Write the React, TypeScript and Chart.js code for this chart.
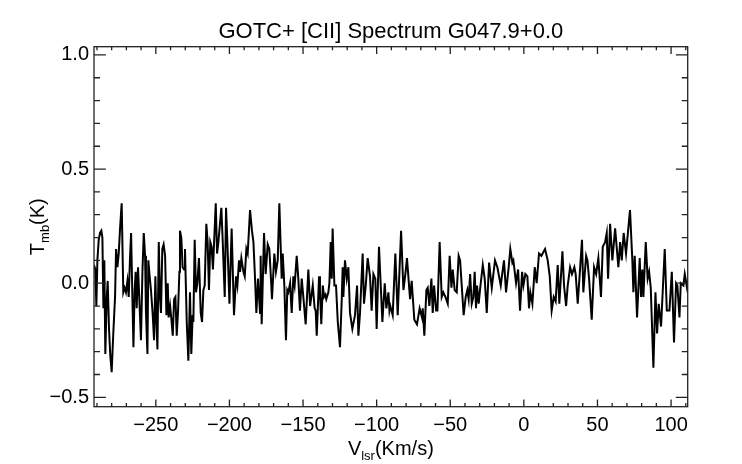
import { useEffect, useRef } from 'react';
import { Chart, registerables } from 'chart.js';

Chart.register(...registerables);

// Velocity channels (km/s)
const velocities: number[] = [
  -292.0, -291.1, -290.4, -289.7, -288.8, -287.9, -287.0, -286.3, -285.6, -285.0,
  -284.3, -283.4, -282.7, -281.8, -280.9, -280.0, -278.9, -277.7, -277.0, -276.1,
  -275.2, -274.3, -273.2, -272.1, -271.2, -270.3, -269.3, -268.4, -267.5, -266.8,
  -265.9, -265.2, -264.4, -263.7, -263.0, -262.1, -261.2, -260.1, -259.1, -258.2,
  -257.3, -256.7, -255.7, -255.1, -254.2, -253.3, -252.1, -251.2, -250.3, -249.6,
  -248.9, -248.0, -247.1, -246.5, -245.6, -244.7, -243.7, -242.8, -241.9, -241.3,
  -240.3, -239.4, -238.5, -237.6, -236.7, -235.8, -234.9, -234.0,
  -233.6, -232.7, -231.8, -230.8, -230.2, -229.0, -227.9, -226.8, -225.9, -225.0,
  -224.5, -223.6, -222.7, -221.8, -220.7, -219.5, -218.6, -217.7, -216.8, -215.7,
  -214.8, -213.9, -213.0, -212.1, -211.2, -209.3, -208.4, -207.5, -205.5, -204.6,
  -203.2, -202.3, -201.4, -200.0, -198.5, -196.9, -195.5, -194.6, -193.5, -192.8,
  -191.9, -190.5, -189.6, -188.5, -187.6, -186.0, -184.7, -183.7, -182.8, -181.7,
  -180.6, -179.2, -178.8, -178.1, -176.5, -175.4, -174.0, -172.9, -171.7, -171.1,
  -169.5, -168.4, -167.2, -166.1,
  -164.5, -163.8, -162.7, -161.6, -160.7, -160.0, -158.8, -157.7, -156.6, -155.7,
  -154.3, -153.2, -152.1, -150.9, -149.8, -148.2, -146.4, -145.2, -143.4, -142.1,
  -141.4, -140.7, -139.1, -138.5, -137.6, -136.6, -135.7, -134.8, -134.2, -132.8,
  -132.1, -131.2, -130.5, -129.9, -128.7, -127.6, -126.4, -124.9, -123.7, -123.1,
  -122.6, -121.5, -120.3, -119.2, -118.1, -116.5, -114.7, -113.3, -112.4, -111.3,
  -109.5, -108.6, -107.4, -106.1, -104.5, -103.4, -102.2, -100.9, -100.0, -98.4,
  -96.1, -94.5, -93.4, -92.0, -91.3, -90.7, -89.1, -87.3, -85.7, -83.4,
  -81.8, -80.5, -79.4, -77.3, -76.2, -74.4, -72.6, -70.8, -69.2, -68.7,
  -67.6, -66.2, -65.3, -64.2, -62.8, -61.9, -61.0, -59.6, -58.7, -57.2,
  -55.8, -54.7, -53.3, -51.7, -50.4, -49.2, -48.3, -47.0, -45.6, -44.3,
  -43.3, -42.2, -40.9, -39.5, -38.4, -37.5, -36.5, -35.4, -34.3, -33.4,
  -32.5, -31.8, -30.7, -29.8,
  -27.9, -26.6, -25.2, -23.6, -21.8, -19.6, -18.0, -15.7, -13.5, -12.1,
  -10.3, -9.2, -7.8, -7.1, -5.3, -3.9, -2.6, -1.2, -0.3, 1.0,
  2.4, 3.5, 4.4, 5.8, 7.4, 8.7, 10.3, 11.9, 14.4, 16.2,
  17.6, 18.9, 20.3, 21.6, 23.0, 24.1, 26.2, 27.3, 28.7, 29.8,
  31.4, 32.7, 34.3, 35.2, 36.6, 39.5,
  40.4, 42.3, 43.2, 44.3, 46.1, 47.7, 49.1, 50.6, 52.4, 53.6,
  55.2, 56.3, 57.2, 58.6, 60.1, 62.0, 64.2, 65.4, 66.5, 67.8,
  69.4, 72.1, 73.7, 74.4, 75.3, 76.9, 78.7, 79.6, 80.5, 81.2,
  82.8, 84.1, 85.1, 86.2, 88.0, 89.4, 90.5, 91.6, 93.2, 95.7,
  97.1, 98.9, 100.5, 102.0, 103.4, 104.3, 105.7, 106.6, 108.4, 109.3,
  110.6, 111.3,
];

// Main-beam temperature (K)
const tmb: number[] = [
  0.08, 0.06, -0.10, 0.10, 0.19, 0.22, 0.23, 0.20, -0.11, 0.10,
  -0.31, -0.07, 0.01, -0.20, -0.32, -0.39, -0.22, -0.06, 0.15, 0.07,
  0.13, 0.24, 0.35, -0.04, -0.02, -0.04, 0.01, -0.06, 0.12, 0.22,
  -0.07, -0.28, -0.03, 0.05, -0.11, 0.07, -0.07, -0.25, 0.05, 0.22,
  0.12, -0.13, -0.31, 0.10, 0.03, -0.03, -0.14, -0.25, 0.03, -0.17,
  -0.29, 0.18, -0.07, -0.13, 0.15, 0.17, 0.12, -0.14, 0.00, -0.15,
  -0.10, -0.16, -0.23, -0.07, -0.06, -0.23, -0.12, 0.05,
  0.23, 0.20, 0.07, 0.06, 0.15, -0.17, -0.34, -0.04, -0.31, -0.14,
  -0.17, 0.19, -0.04, 0.00, 0.11, -0.13, -0.17, -0.03, -0.01, 0.26,
  0.18, -0.03, 0.18, 0.16, 0.06, 0.35, 0.13, 0.18, 0.33, 0.19,
  -0.06, 0.33, 0.18, -0.09, 0.24, -0.14, 0.03, -0.01, 0.10, 0.05,
  0.11, 0.05, 0.03, 0.15, 0.13, 0.32, 0.23, 0.18, 0.05, -0.13,
  0.02, -0.13, 0.12, -0.18, 0.22, 0.04, 0.17, 0.15, 0.01, -0.07,
  0.13, 0.05, 0.10, 0.35,
  0.02, 0.13, -0.01, -0.25, -0.03, -0.04, 0.00, -0.13, 0.03, -0.01,
  0.12, 0.02, -0.12, 0.02, -0.06, -0.18, 0.06, -0.10, -0.01, -0.11,
  -0.12, -0.23, 0.03, -0.04, -0.18, -0.01, -0.06, -0.05, -0.07, -0.04,
  0.00, 0.18, 0.02, 0.24, -0.01, -0.01, -0.17, -0.28, -0.07, 0.07,
  -0.06, 0.10, 0.02, 0.07, -0.13, -0.20, -0.14, -0.01, -0.23, -0.13,
  0.13, -0.09, -0.01, 0.11, 0.03, -0.12, 0.04, 0.02, -0.20, 0.16,
  -0.17, 0.00, -0.11, -0.04, -0.12, -0.10, -0.14, 0.13, -0.14, 0.23,
  -0.03, 0.04, 0.11, -0.07, 0.01, -0.16, -0.18, -0.11, -0.15, -0.11,
  -0.23, -0.03, -0.02, -0.10, 0.02, -0.13, -0.01, -0.12, -0.12, 0.18,
  -0.06, -0.04, -0.06, -0.09, 0.12, -0.02, 0.06, -0.03, -0.04, 0.12,
  0.10, -0.01, -0.14, -0.06, -0.03, -0.07, 0.04, -0.09, -0.06, 0.05,
  -0.11, -0.01, -0.09, -0.03,
  0.08, 0.02, -0.13, 0.09, -0.02, 0.10, 0.07, -0.01, 0.10, -0.04,
  0.07, 0.15, 0.09, 0.10, 0.00, 0.06, -0.12, 0.05, -0.01, 0.04,
  0.03, -0.11, -0.04, -0.09, 0.07, 0.00, 0.13, 0.12, 0.15, 0.10,
  0.03, -0.12, -0.06, -0.08, 0.08, -0.09, 0.14, -0.01, -0.10, -0.01,
  0.07, 0.04, 0.07, 0.04, -0.09, 0.19,
  -0.04, 0.12, 0.10, 0.02, -0.16, 0.07, 0.04, 0.11, -0.06, 0.16,
  0.18, 0.22, 0.02, 0.26, 0.10, 0.24, 0.07, 0.18, 0.10, 0.22,
  0.13, 0.32, 0.10, -0.04, 0.12, -0.15, 0.11, -0.06, 0.06, -0.06,
  0.18, 0.02, 0.05, -0.02, -0.37, -0.04, -0.22, -0.09, -0.19, 0.15,
  -0.12, -0.12, 0.05, -0.26, 0.00, -0.01, -0.15, 0.00, -0.01, 0.04,
  -0.01, -0.04,
];

const xMajorTicks: number[] = [-250, -200, -150, -100, -50, 0, 50, 100];
const yMajorTicks: number[] = [-0.5, 0.0, 0.5, 1.0];
const X_MIN = -292;
const X_MAX = 111.3;
const Y_MIN = -0.541;
const Y_MAX = 1.036;
const X_MINOR_STEP = 10;
const Y_MINOR_STEP = 0.1;

const TITLE = 'GOTC+ [CII] Spectrum G047.9+0.0';
const FONT = "'Liberation Sans', Arial, Helvetica, sans-serif";

const fmt = (v: number, d: number) =>
  (v < -1e-9 ? '\u2212' : '') + Math.abs(v).toFixed(d);

const framePlugin = {
  id: 'idlFrame',
  afterDraw(chart: any) {
    const { ctx, chartArea } = chart;
    const { left, right, top, bottom } = chartArea;
    const xs = chart.scales.x;
    const ys = chart.scales.y;
    const w = right - left;
    const h = bottom - top;
    ctx.save();
    ctx.strokeStyle = '#222';
    ctx.lineWidth = 1.3;
    ctx.strokeRect(left, top, w, h);
    ctx.beginPath();
    const xStart = Math.ceil(X_MIN / X_MINOR_STEP);
    const xEnd = Math.floor(X_MAX / X_MINOR_STEP);
    for (let i = xStart; i <= xEnd; i++) {
      const v = i * X_MINOR_STEP;
      const major = xMajorTicks.includes(v);
      const len = (major ? 0.02 : 0.01) * h;
      const px = xs.getPixelForValue(v);
      ctx.moveTo(px, bottom);
      ctx.lineTo(px, bottom - len);
      ctx.moveTo(px, top);
      ctx.lineTo(px, top + len);
    }
    const yStart = Math.ceil(Y_MIN / Y_MINOR_STEP);
    const yEnd = Math.floor(Y_MAX / Y_MINOR_STEP);
    for (let i = yStart; i <= yEnd; i++) {
      const v = i * Y_MINOR_STEP;
      const major = i % 5 === 0;
      const len = (major ? 0.02 : 0.01) * w;
      const py = ys.getPixelForValue(v);
      ctx.moveTo(left, py);
      ctx.lineTo(left + len, py);
      ctx.moveTo(right, py);
      ctx.lineTo(right - len, py);
    }
    ctx.stroke();

    // Axis titles with subscripts
    ctx.fillStyle = '#000';
    ctx.textBaseline = 'alphabetic';
    ctx.textAlign = 'left';
    const big = `20px ${FONT}`;
    const small = `13px ${FONT}`;
    const drawSub = (main: string, sub: string, rest: string, cx: number, base: number) => {
      ctx.font = big;
      const w1 = ctx.measureText(main).width;
      const w3 = ctx.measureText(rest).width;
      ctx.font = small;
      const w2 = ctx.measureText(sub).width;
      const total = w1 + w2 + w3;
      let x0 = cx - total / 2;
      ctx.font = big;
      ctx.fillText(main, x0, base);
      x0 += w1;
      ctx.font = small;
      ctx.fillText(sub, x0, base + 5);
      x0 += w2;
      ctx.font = big;
      ctx.fillText(rest, x0, base);
    };
    drawSub('V', 'lsr', '(Km/s)', (left + right) / 2, 455);
    ctx.save();
    ctx.translate(44, (top + bottom) / 2);
    ctx.rotate(-Math.PI / 2);
    drawSub('T', 'mb', '(K)', 0, 0);
    ctx.restore();
    ctx.restore();
  },
};

export default function App() {
  const ref = useRef<HTMLCanvasElement | null>(null);
  useEffect(() => {
    document.body.style.margin = '0';
    const canvas = ref.current;
    if (!canvas) return;
    const chart = new Chart(canvas, {
      type: 'line',
      data: {
        datasets: [
          {
            data: velocities.map((v, i) => ({ x: v, y: tmb[i] })),
            borderColor: '#000',
            borderWidth: 2,
            pointRadius: 0,
            tension: 0,
            fill: false,
          },
        ],
      },
      options: {
        animation: false,
        responsive: false,
        devicePixelRatio: window.devicePixelRatio || 1,
        layout: { padding: { left: 0, right: 54.3, top: 0, bottom: 0 } },
        plugins: {
          legend: { display: false },
          tooltip: { enabled: false },
          title: {
            display: true,
            fullSize: false,
            text: TITLE,
            color: '#000',
            font: { family: FONT, size: 22, weight: 'normal', lineHeight: 1.2 },
            padding: { top: 18.8, bottom: 1.5 },
          },
        },
        scales: {
          x: {
            type: 'linear',
            min: X_MIN,
            max: X_MAX,
            grid: { display: false, drawTicks: false },
            border: { display: false },
            afterBuildTicks: (scale: any) => {
              scale.ticks = xMajorTicks.map((v) => ({ value: v }));
            },
            afterFit: (scale: any) => {
              scale.height = 57.3;
            },
            ticks: {
              color: '#000',
              padding: 7,
              maxRotation: 0,
              autoSkip: false,
              font: { family: FONT, size: 20 },
              callback: (v: any) => fmt(Number(v), 0),
            },
          },
          y: {
            type: 'linear',
            min: Y_MIN,
            max: Y_MAX,
            grid: { display: false, drawTicks: false },
            border: { display: false },
            afterBuildTicks: (scale: any) => {
              scale.ticks = yMajorTicks.map((v) => ({ value: v }));
            },
            afterFit: (scale: any) => {
              scale.width = 94;
            },
            ticks: {
              color: '#000',
              padding: 5,
              autoSkip: false,
              font: { family: FONT, size: 20 },
              callback: (v: any) => fmt(Number(v), 1),
            },
          },
        },
      },
      plugins: [framePlugin],
    });
    return () => chart.destroy();
  }, []);
  return (
    <div style={{ position: 'absolute', left: 0, top: 0, width: 742, height: 464, background: '#fff' }}>
      <canvas ref={ref} width={742} height={464} style={{ width: 742, height: 464 }} />
    </div>
  );
}
